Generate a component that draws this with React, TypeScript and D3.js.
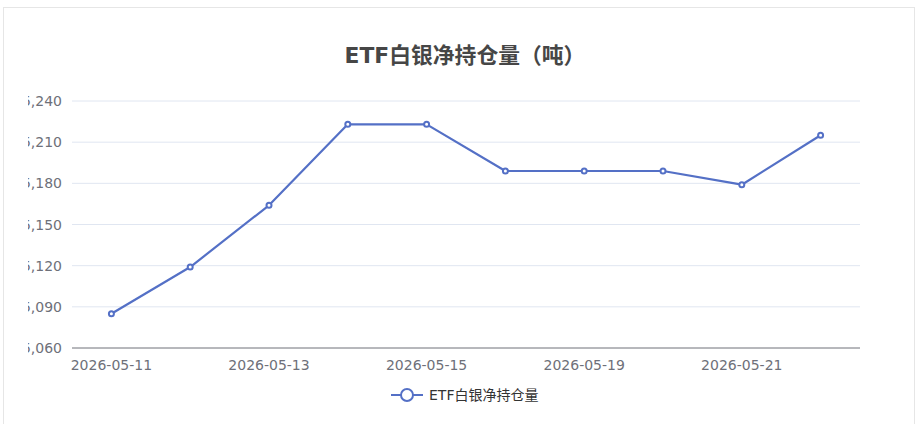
import React from "react";
import * as d3 from "d3";

const categories = [
  "2026-05-11", "2026-05-12", "2026-05-13", "2026-05-14", "2026-05-15",
  "2026-05-18", "2026-05-19", "2026-05-20", "2026-05-21", "2026-05-22",
];
const values = [15085, 15119, 15164, 15223, 15223, 15189, 15189, 15189, 15179, 15215];
const yTicks = [15060, 15090, 15120, 15150, 15180, 15210, 15240];
const titleText = "ETF白银净持仓量（吨）";
const seriesName = "ETF白银净持仓量";

const W = 923;
const H = 424;
const COLOR = "#5470c6";
const FONT = "'DejaVu Sans', 'Noto Sans CJK SC', sans-serif";

export default function App() {
  const x = d3.scaleBand<string>().domain(categories).range([72, 860]);
  const y = d3.scaleLinear().domain([15060, 15240]).range([348, 101]);
  const cx = (d: string) => (x(d) ?? 0) + x.bandwidth() / 2;
  const line = d3
    .line<number>()
    .x((_, i) => cx(categories[i]))
    .y((v) => y(v));
  const fmt = d3.format(",");

  return (
    <svg
      width={W}
      height={H}
      style={{ position: "absolute", left: 0, top: 0, background: "#fff" }}
      fontFamily={FONT}
    >
      <defs>
        <clipPath id="plotclip">
          <rect x={28} y={0} width={866} height={H} />
        </clipPath>
      </defs>
      <rect x={3.5} y={7.5} width={911} height={430} fill="#fff" stroke="#e6e6e6" strokeWidth={1} />
      <text
        x={465}
        y={55}
        textAnchor="middle"
        dominantBaseline="central"
        fontSize={21.8}
        fontWeight="bold"
        fill="#464646"
      >
        {titleText}
      </text>
      <g clipPath="url(#plotclip)">
        {yTicks.map((t) => (
          <g key={t}>
            {t !== 15060 && (
              <line x1={72} x2={860} y1={y(t)} y2={y(t)} stroke="#E0E6F1" strokeWidth={1} />
            )}
            <text
              x={62}
              y={y(t)}
              textAnchor="end"
              dominantBaseline="central"
              fontSize={14}
              fill="#6E7079"
            >
              {fmt(t)}
            </text>
          </g>
        ))}
      </g>
      <line x1={72} x2={860} y1={y(15060)} y2={y(15060)} stroke="#6E7079" strokeWidth={1} />
      {categories.map((c, i) =>
        i % 2 === 0 ? (
          <text
            key={c}
            x={cx(c)}
            y={365}
            textAnchor="middle"
            dominantBaseline="central"
            fontSize={14}
            fill="#6E7079"
          >
            {c}
          </text>
        ) : null
      )}
      <path d={line(values) ?? ""} fill="none" stroke={COLOR} strokeWidth={2.2} strokeLinejoin="bevel" />
      {values.map((v, i) => (
        <circle key={i} cx={cx(categories[i])} cy={y(v)} r={2.5} fill="#fff" stroke={COLOR} strokeWidth={2} />
      ))}
      <g>
        <line x1={391} x2={423} y1={395} y2={395} stroke={COLOR} strokeWidth={2} />
        <circle cx={407} cy={395} r={6} fill="#fff" stroke={COLOR} strokeWidth={2} />
        <text x={429} y={395} dominantBaseline="central" fontSize={14} fill="#333">
          {seriesName}
        </text>
      </g>
    </svg>
  );
}
